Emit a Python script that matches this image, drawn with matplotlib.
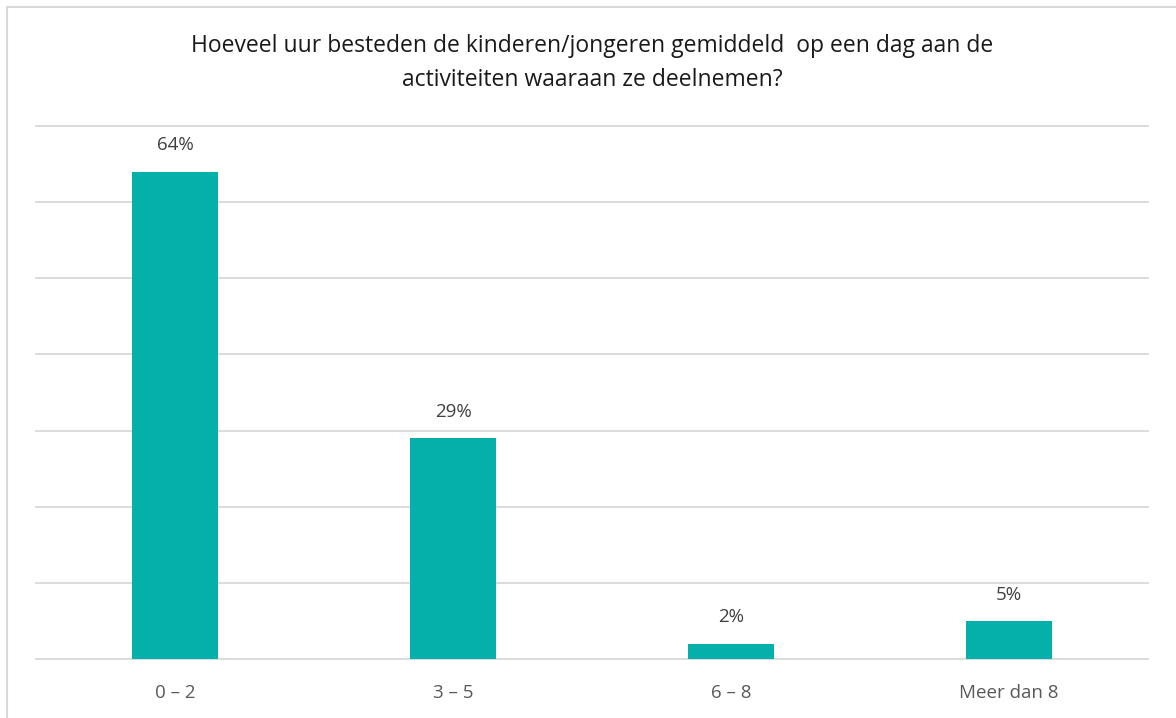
import matplotlib
matplotlib.use("Agg")
import matplotlib.pyplot as plt
from matplotlib.patches import Rectangle
import numpy as np

plt.rcParams['font.family'] = ['Open Sans', 'DejaVu Sans']

# data
categories = ['0 – 2', '3 – 5', '6 – 8', 'Meer dan 8']
percentages = [64, 29, 2, 5]
title = ('Hoeveel uur besteden de kinderen/jongeren gemiddeld  op een dag aan de\n'
         'activiteiten waaraan ze deelnemen?')

W, H = 1176, 718
fig = plt.figure(figsize=(W / 100, H / 100), dpi=100)
fig.patch.set_facecolor('white')

# light grey chart frame (right and bottom edges run off the image)
fig.patches.append(Rectangle((6.5 / W, -0.05), 1.2, (H - 6.5) / H + 0.05,
                             transform=fig.transFigure, fill=False,
                             edgecolor='#D9D9D9', linewidth=1.5))

ax = fig.add_axes([36 / W, 1 - 659 / H, (1148 - 36) / W, (659 - 126) / H])
x = np.arange(len(categories))
bars = ax.bar(x, percentages, width=0.31, color='#06B0AA', zorder=3)

ax.set_xlim(-0.5, len(categories) - 0.5)
ax.set_ylim(0, 70)
ax.set_yticks(np.arange(0, 71, 10))
ax.yaxis.grid(True, color='#D9D9D9', linewidth=1.3)
for gl in ax.get_ygridlines():
    gl.set_clip_on(False)
ax.tick_params(axis='y', left=False, labelleft=False)
ax.tick_params(axis='x', length=0, pad=18, labelsize=13.5, labelcolor='#595959')
ax.set_xticks(x)
ax.set_xticklabels(categories)
for s in ax.spines.values():
    s.set_visible(False)

for b, v in zip(bars, percentages):
    ax.annotate(f'{v}%', (b.get_x() + b.get_width() / 2, v),
                xytext=(0, 19), textcoords='offset points',
                ha='center', va='center', fontsize=13.5, color='#404040')

fig.text(592 / W, 1 - 63 / H, title, ha='center', va='center',
         fontsize=16.5, color='#1a1a1a', linespacing=1.6)

fig.savefig('out.png', dpi=100)
